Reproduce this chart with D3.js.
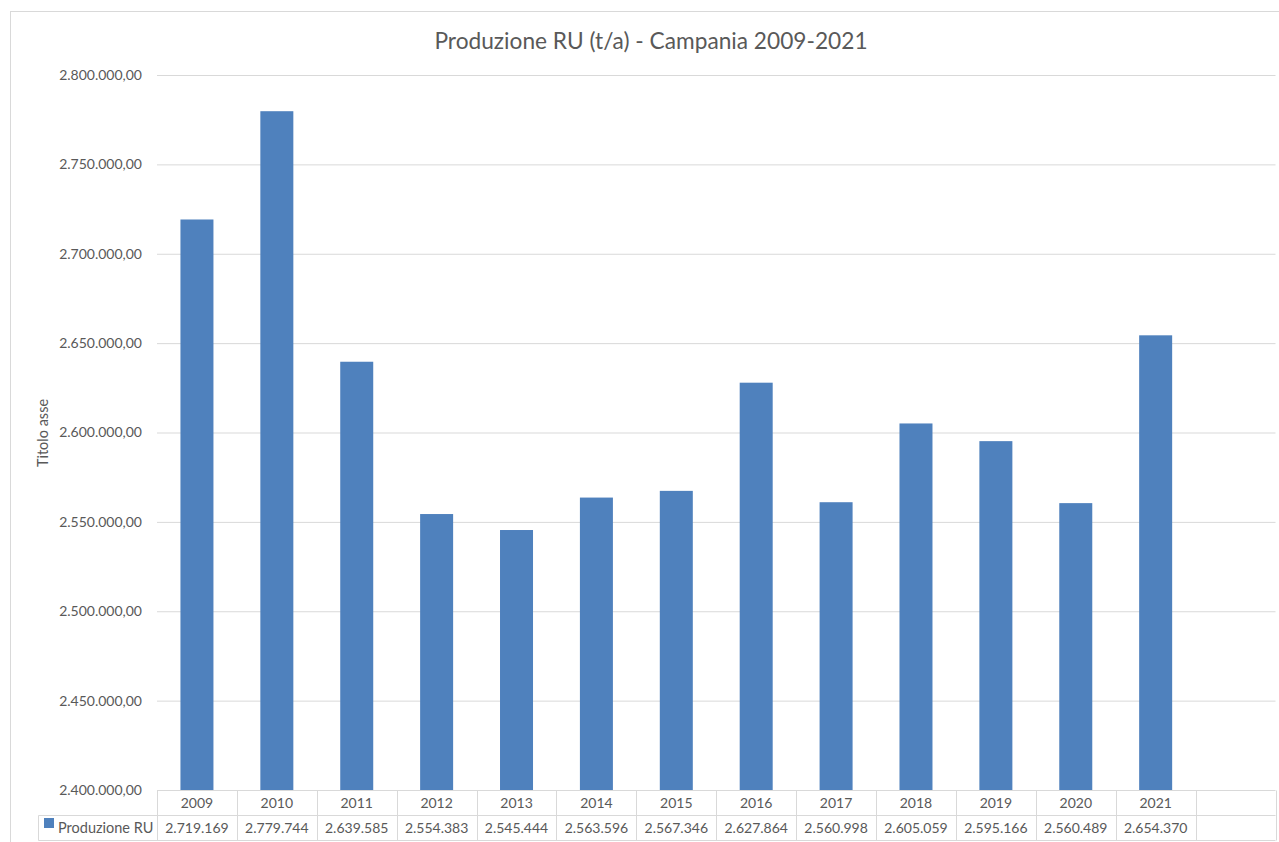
<!DOCTYPE html>
<html>
<head>
<meta charset="utf-8">
<script src="https://cdn.jsdelivr.net/npm/d3@7"></script>
<style>
  html, body { margin: 0; padding: 0; background: #ffffff; }
  svg { display: block; }
  text { font-family: Lato, "Open Sans", sans-serif; }
</style>
</head>
<body>
<svg id="chart" width="1279" height="842"></svg>
<script>
const title = "Produzione RU (t/a) - Campania 2009-2021";
const yAxisTitle = "Titolo asse";
const seriesName = "Produzione RU";
const categories = ["2009","2010","2011","2012","2013","2014","2015","2016","2017","2018","2019","2020","2021",""];
const values = [2719169, 2779744, 2639585, 2554383, 2545444, 2563596, 2567346, 2627864, 2560998, 2605059, 2595166, 2560489, 2654370, null];
const yTicks = [2400000, 2450000, 2500000, 2550000, 2600000, 2650000, 2700000, 2750000, 2800000];

(function () {
const itFmt = d3.formatLocale({decimal: ",", thousands: ".", grouping: [3], currency: ["€", ""]});
const fmtTick = itFmt.format(",.2f");
const fmtVal = itFmt.format(",d");

const svg = d3.select("#chart");
const grid = "#d9d9d9";
const textCol = "#595959";
const barCol = "#4f81bd";

// chart frame
svg.append("rect").attr("x", 10.5).attr("y", 11.5).attr("width", 1300).attr("height", 900)
  .attr("fill", "none").attr("stroke", grid).attr("stroke-width", 1);

const pLeft = 157, pRight = 1275.5, pTop = 75, pBottom = 790;
const x = d3.scaleBand().domain(d3.range(categories.length)).range([pLeft, pRight]).paddingInner(0).paddingOuter(0);
const y = d3.scaleLinear().domain([2400000, 2800000]).range([pBottom, pTop]);

// title
svg.append("text").attr("x", 651).attr("y", 48.5).attr("text-anchor", "middle")
  .attr("fill", textCol).attr("font-size", 22.7).text(title);

// gridlines + tick labels
const yAxis = d3.axisLeft(y).tickValues(yTicks).tickSize(-(pRight - pLeft)).tickFormat(fmtTick).tickPadding(15);
const gy = svg.append("g").attr("transform", `translate(${pLeft},0)`).call(yAxis);
gy.select(".domain").remove();
gy.selectAll(".tick line").attr("stroke", grid).attr("stroke-width", 1);
gy.selectAll(".tick text").attr("fill", textCol).attr("font-size", 14).attr("font-family", "Lato, sans-serif");
gy.selectAll(".tick").filter(d => d === 2400000).select("line").remove();

// y axis title
svg.append("text").attr("transform", "translate(48,433) rotate(-90)").attr("text-anchor", "middle")
  .attr("fill", textCol).attr("font-size", 14.5).text(yAxisTitle);

// bars
const bw = 33;
svg.append("g").selectAll("rect").data(values.map((v, i) => ({v, i})).filter(d => d.v !== null))
  .join("rect")
  .attr("x", d => x(d.i) + x.bandwidth() / 2 - bw / 2)
  .attr("width", bw)
  .attr("y", d => y(d.v))
  .attr("height", d => y(2400000) - y(d.v))
  .attr("fill", barCol);

// data table
const r1 = 790.5, r2 = 815.5, r3 = 840.5, legLeft = 38.5;
const tbl = svg.append("g").attr("stroke", grid).attr("stroke-width", 1).attr("fill", "none");
tbl.append("line").attr("x1", pLeft).attr("x2", pRight).attr("y1", r1).attr("y2", r1);
tbl.append("line").attr("x1", legLeft).attr("x2", pRight).attr("y1", r2).attr("y2", r2);
tbl.append("line").attr("x1", legLeft).attr("x2", pRight).attr("y1", r3).attr("y2", r3);
tbl.append("line").attr("x1", legLeft).attr("x2", legLeft).attr("y1", r2).attr("y2", r3);
const bounds = d3.range(categories.length + 1).map(i => i < categories.length ? x(i) : pRight);
tbl.selectAll("line.v").data(bounds).join("line").attr("class", "v")
  .attr("x1", d => Math.round(d) + 0.5).attr("x2", d => Math.round(d) + 0.5)
  .attr("y1", r1).attr("y2", r3);

svg.append("g").selectAll("text").data(categories).join("text")
  .attr("x", (d, i) => x(i) + x.bandwidth() / 2).attr("y", 807.5)
  .attr("text-anchor", "middle").attr("fill", textCol).attr("font-size", 14).text(d => d);

svg.append("g").selectAll("text").data(values).join("text")
  .attr("x", (d, i) => x(i) + x.bandwidth() / 2).attr("y", 832.5)
  .attr("text-anchor", "middle").attr("fill", textCol).attr("font-size", 14)
  .text(d => d === null ? "" : fmtVal(d));

// legend key
svg.append("rect").attr("x", 44).attr("y", 818).attr("width", 10).attr("height", 10).attr("fill", barCol);
svg.append("text").attr("x", 58).attr("y", 832.5).attr("fill", textCol).attr("font-size", 14.5).text(seriesName);
})();
</script>
</body>
</html>
